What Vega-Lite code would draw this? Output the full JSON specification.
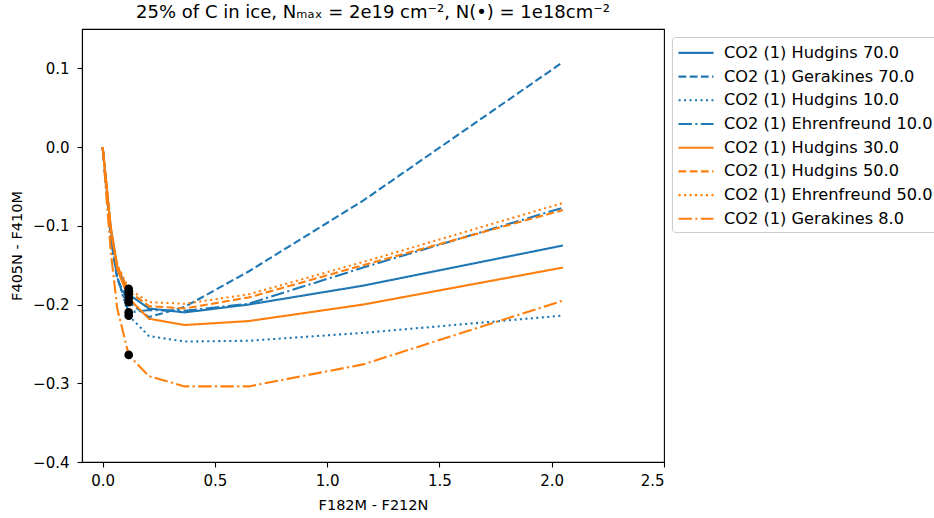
{
  "$schema": "https://vega.github.io/schema/vega-lite/v6.json",
  "width": 582,
  "height": 433,
  "autosize": "none",
  "padding": {"left": 82, "top": 29, "right": 270, "bottom": 56},
  "title": {"text": "25% of C in ice, Nₘₐₓ = 2e19 cm⁻², N(•) = 1e18cm⁻²", "fontSize": 18, "font": "DejaVu Sans", "fontWeight": "normal", "color": "black", "offset": 7, "anchor": "middle"},
  "config": {
    "font": "DejaVu Sans",
    "view": {"stroke": "black", "strokeWidth": 1.1},
    "axis": {"grid": false, "domainColor": "black", "domainWidth": 1.1, "tickColor": "black", "tickSize": 5, "tickWidth": 1.1, "labelFont": "DejaVu Sans", "labelFontSize": 15, "labelColor": "black", "labelPadding": 4, "titleFont": "DejaVu Sans", "titleFontSize": 14.5, "titleFontWeight": "normal", "titleColor": "black"}
  },
  "datasets": {
    "lines": [
      {"series": "CO2 (1) Hudgins 70.0", "x": 0, "y": 0},
      {"series": "CO2 (1) Hudgins 70.0", "x": 0.02, "y": -0.058},
      {"series": "CO2 (1) Hudgins 70.0", "x": 0.037, "y": -0.105},
      {"series": "CO2 (1) Hudgins 70.0", "x": 0.065, "y": -0.152},
      {"series": "CO2 (1) Hudgins 70.0", "x": 0.116, "y": -0.187},
      {"series": "CO2 (1) Hudgins 70.0", "x": 0.206, "y": -0.205},
      {"series": "CO2 (1) Hudgins 70.0", "x": 0.365, "y": -0.21},
      {"series": "CO2 (1) Hudgins 70.0", "x": 0.65, "y": -0.2},
      {"series": "CO2 (1) Hudgins 70.0", "x": 1.16, "y": -0.176},
      {"series": "CO2 (1) Hudgins 70.0", "x": 2.05, "y": -0.125},
      {"series": "CO2 (1) Gerakines 70.0", "x": 0, "y": 0},
      {"series": "CO2 (1) Gerakines 70.0", "x": 0.02, "y": -0.065},
      {"series": "CO2 (1) Gerakines 70.0", "x": 0.037, "y": -0.118},
      {"series": "CO2 (1) Gerakines 70.0", "x": 0.065, "y": -0.168},
      {"series": "CO2 (1) Gerakines 70.0", "x": 0.116, "y": -0.197},
      {"series": "CO2 (1) Gerakines 70.0", "x": 0.206, "y": -0.216},
      {"series": "CO2 (1) Gerakines 70.0", "x": 0.365, "y": -0.203},
      {"series": "CO2 (1) Gerakines 70.0", "x": 0.65, "y": -0.158},
      {"series": "CO2 (1) Gerakines 70.0", "x": 1.16, "y": -0.068},
      {"series": "CO2 (1) Gerakines 70.0", "x": 2.05, "y": 0.108},
      {"series": "CO2 (1) Hudgins 10.0", "x": 0, "y": 0},
      {"series": "CO2 (1) Hudgins 10.0", "x": 0.02, "y": -0.062},
      {"series": "CO2 (1) Hudgins 10.0", "x": 0.037, "y": -0.112},
      {"series": "CO2 (1) Hudgins 10.0", "x": 0.065, "y": -0.165},
      {"series": "CO2 (1) Hudgins 10.0", "x": 0.116, "y": -0.214},
      {"series": "CO2 (1) Hudgins 10.0", "x": 0.206, "y": -0.24},
      {"series": "CO2 (1) Hudgins 10.0", "x": 0.365, "y": -0.247},
      {"series": "CO2 (1) Hudgins 10.0", "x": 0.65, "y": -0.246},
      {"series": "CO2 (1) Hudgins 10.0", "x": 1.16, "y": -0.236},
      {"series": "CO2 (1) Hudgins 10.0", "x": 2.05, "y": -0.214},
      {"series": "CO2 (1) Ehrenfreund 10.0", "x": 0, "y": 0},
      {"series": "CO2 (1) Ehrenfreund 10.0", "x": 0.02, "y": -0.063},
      {"series": "CO2 (1) Ehrenfreund 10.0", "x": 0.037, "y": -0.115},
      {"series": "CO2 (1) Ehrenfreund 10.0", "x": 0.065, "y": -0.165},
      {"series": "CO2 (1) Ehrenfreund 10.0", "x": 0.116, "y": -0.21},
      {"series": "CO2 (1) Ehrenfreund 10.0", "x": 0.206, "y": -0.207},
      {"series": "CO2 (1) Ehrenfreund 10.0", "x": 0.365, "y": -0.208},
      {"series": "CO2 (1) Ehrenfreund 10.0", "x": 0.65, "y": -0.199},
      {"series": "CO2 (1) Ehrenfreund 10.0", "x": 1.16, "y": -0.153},
      {"series": "CO2 (1) Ehrenfreund 10.0", "x": 2.05, "y": -0.077},
      {"series": "CO2 (1) Hudgins 30.0", "x": 0, "y": 0},
      {"series": "CO2 (1) Hudgins 30.0", "x": 0.02, "y": -0.057},
      {"series": "CO2 (1) Hudgins 30.0", "x": 0.037, "y": -0.106},
      {"series": "CO2 (1) Hudgins 30.0", "x": 0.065, "y": -0.155},
      {"series": "CO2 (1) Hudgins 30.0", "x": 0.116, "y": -0.192},
      {"series": "CO2 (1) Hudgins 30.0", "x": 0.206, "y": -0.218},
      {"series": "CO2 (1) Hudgins 30.0", "x": 0.365, "y": -0.226},
      {"series": "CO2 (1) Hudgins 30.0", "x": 0.65, "y": -0.221},
      {"series": "CO2 (1) Hudgins 30.0", "x": 1.16, "y": -0.2},
      {"series": "CO2 (1) Hudgins 30.0", "x": 2.05, "y": -0.153},
      {"series": "CO2 (1) Hudgins 50.0", "x": 0, "y": 0},
      {"series": "CO2 (1) Hudgins 50.0", "x": 0.02, "y": -0.056},
      {"series": "CO2 (1) Hudgins 50.0", "x": 0.037, "y": -0.104},
      {"series": "CO2 (1) Hudgins 50.0", "x": 0.065, "y": -0.151},
      {"series": "CO2 (1) Hudgins 50.0", "x": 0.116, "y": -0.183},
      {"series": "CO2 (1) Hudgins 50.0", "x": 0.206, "y": -0.202},
      {"series": "CO2 (1) Hudgins 50.0", "x": 0.365, "y": -0.205},
      {"series": "CO2 (1) Hudgins 50.0", "x": 0.65, "y": -0.191},
      {"series": "CO2 (1) Hudgins 50.0", "x": 1.16, "y": -0.15},
      {"series": "CO2 (1) Hudgins 50.0", "x": 2.05, "y": -0.08},
      {"series": "CO2 (1) Ehrenfreund 50.0", "x": 0, "y": 0},
      {"series": "CO2 (1) Ehrenfreund 50.0", "x": 0.02, "y": -0.056},
      {"series": "CO2 (1) Ehrenfreund 50.0", "x": 0.037, "y": -0.103},
      {"series": "CO2 (1) Ehrenfreund 50.0", "x": 0.065, "y": -0.149},
      {"series": "CO2 (1) Ehrenfreund 50.0", "x": 0.116, "y": -0.18},
      {"series": "CO2 (1) Ehrenfreund 50.0", "x": 0.206, "y": -0.197},
      {"series": "CO2 (1) Ehrenfreund 50.0", "x": 0.365, "y": -0.199},
      {"series": "CO2 (1) Ehrenfreund 50.0", "x": 0.65, "y": -0.187},
      {"series": "CO2 (1) Ehrenfreund 50.0", "x": 1.16, "y": -0.146},
      {"series": "CO2 (1) Ehrenfreund 50.0", "x": 2.05, "y": -0.071},
      {"series": "CO2 (1) Gerakines 8.0", "x": 0, "y": 0},
      {"series": "CO2 (1) Gerakines 8.0", "x": 0.02, "y": -0.075},
      {"series": "CO2 (1) Gerakines 8.0", "x": 0.037, "y": -0.135},
      {"series": "CO2 (1) Gerakines 8.0", "x": 0.065, "y": -0.205},
      {"series": "CO2 (1) Gerakines 8.0", "x": 0.116, "y": -0.264},
      {"series": "CO2 (1) Gerakines 8.0", "x": 0.206, "y": -0.291},
      {"series": "CO2 (1) Gerakines 8.0", "x": 0.365, "y": -0.304},
      {"series": "CO2 (1) Gerakines 8.0", "x": 0.65, "y": -0.304},
      {"series": "CO2 (1) Gerakines 8.0", "x": 1.16, "y": -0.276},
      {"series": "CO2 (1) Gerakines 8.0", "x": 2.05, "y": -0.195}
    ],
    "dots": [
      {"x": 0.116, "y": -0.187},
      {"x": 0.116, "y": -0.197},
      {"x": 0.116, "y": -0.214},
      {"x": 0.116, "y": -0.21},
      {"x": 0.116, "y": -0.192},
      {"x": 0.116, "y": -0.183},
      {"x": 0.116, "y": -0.18},
      {"x": 0.116, "y": -0.264}
    ]
  },
  "layer": [
    {
      "data": {"name": "lines"},
      "mark": {"type": "line", "strokeWidth": 2.1},
      "encoding": {
        "x": {"field": "x", "type": "quantitative", "title": "F182M - F212N", "scale": {"domain": [-0.092, 2.5], "nice": false, "zero": false}, "axis": {"values": [0, 0.5, 1, 1.5, 2, 2.5], "format": ".1f", "labelPadding": 6, "titlePadding": 10}},
        "y": {"field": "y", "type": "quantitative", "title": "F405N - F410M", "scale": {"domain": [-0.4, 0.15], "nice": false, "zero": false}, "axis": {"values": [0.1, 0, -0.1, -0.2, -0.3, -0.4], "format": ".1f", "labelPadding": 8, "titlePadding": 8}},
        "color": {"field": "series", "type": "nominal",
          "scale": {"domain": ["CO2 (1) Hudgins 70.0", "CO2 (1) Gerakines 70.0", "CO2 (1) Hudgins 10.0", "CO2 (1) Ehrenfreund 10.0", "CO2 (1) Hudgins 30.0", "CO2 (1) Hudgins 50.0", "CO2 (1) Ehrenfreund 50.0", "CO2 (1) Gerakines 8.0"],
                    "range": ["#1f77b4", "#1f77b4", "#1f77b4", "#1f77b4", "#ff7f0e", "#ff7f0e", "#ff7f0e", "#ff7f0e"]},
          "legend": {"title": null, "orient": "none", "legendX": 590, "legendY": 8, "symbolType": "M-0.94,0H2.56", "symbolSize": 400, "symbolStrokeWidth": 2.1, "labelFontSize": 16.2, "labelFont": "DejaVu Sans", "labelColor": "black", "labelOffset": 24.6, "padding": 4.4, "rowPadding": 3.7, "strokeColor": "#cccccc", "cornerRadius": 3, "fillColor": "white", "labelLimit": 400}},
        "strokeDash": {"field": "series", "type": "nominal",
          "scale": {"domain": ["CO2 (1) Hudgins 70.0", "CO2 (1) Gerakines 70.0", "CO2 (1) Hudgins 10.0", "CO2 (1) Ehrenfreund 10.0", "CO2 (1) Hudgins 30.0", "CO2 (1) Hudgins 50.0", "CO2 (1) Ehrenfreund 50.0", "CO2 (1) Gerakines 8.0"],
                    "range": [[1, 0], [7.8, 3.4], [2.1, 3.4], [13.4, 3.4, 2.1, 3.4], [1, 0], [7.8, 3.4], [2.1, 3.4], [13.4, 3.4, 2.1, 3.4]]},
          "legend": {"title": null, "orient": "none", "legendX": 590, "legendY": 8, "symbolType": "M-0.94,0H2.56", "symbolSize": 400, "symbolStrokeWidth": 2.1, "labelFontSize": 16.2, "labelFont": "DejaVu Sans", "labelColor": "black", "labelOffset": 24.6, "padding": 4.4, "rowPadding": 3.7, "strokeColor": "#cccccc", "cornerRadius": 3, "fillColor": "white", "labelLimit": 400}}
      }
    },
    {
      "data": {"name": "dots"},
      "mark": {"type": "circle", "color": "black", "size": 75, "opacity": 1},
      "encoding": {
        "x": {"field": "x", "type": "quantitative"},
        "y": {"field": "y", "type": "quantitative"}
      }
    }
  ]
}
